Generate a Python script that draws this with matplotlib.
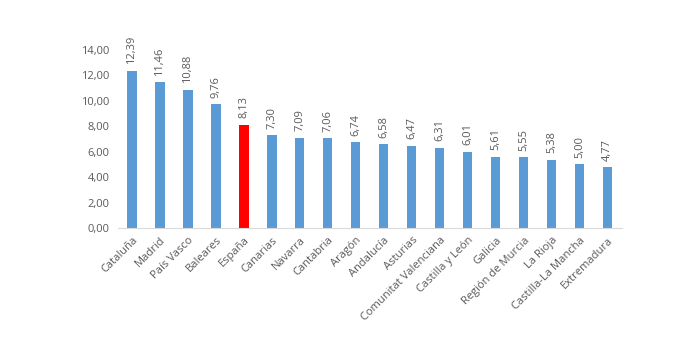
import matplotlib
matplotlib.use('Agg')
import matplotlib.pyplot as plt
import numpy as np

regions = ['Cataluña', 'Madrid', 'País Vasco', 'Baleares', 'España', 'Canarias',
           'Navarra', 'Cantabria', 'Aragón', 'Andalucía', 'Asturias',
           'Comunitat Valenciana', 'Castilla y León', 'Galicia', 'Región de Murcia',
           'La Rioja', 'Castilla-La Mancha', 'Extremadura']
values = [12.39, 11.46, 10.88, 9.76, 8.13, 7.30, 7.09, 7.06, 6.74, 6.58, 6.47,
          6.31, 6.01, 5.61, 5.55, 5.38, 5.00, 4.77]
yticks = [0, 2, 4, 6, 8, 10, 12, 14]

text_color = '#595959'
blue = '#5b9bd5'
red = '#ff0000'

plt.rcParams['font.family'] = ['Open Sans', 'DejaVu Sans']

fig = plt.figure(figsize=(6.9, 3.55), dpi=100)
ax = fig.add_axes([0.171, 0.358, 0.730, 0.501])

x = np.arange(len(regions))
colors = [red if r == 'España' else blue for r in regions]
ax.bar(x, values, width=0.33, color=colors, zorder=2)

# value labels above each bar, rotated like the original
for xi, v in zip(x, values):
    ax.text(xi, v + 0.5, f'{v:.2f}'.replace('.', ','), rotation=90,
            ha='center', va='bottom', fontsize=8, color=text_color, clip_on=False)

ax.set_xlim(-0.5, len(regions) - 0.5)
ax.set_ylim(0, 14)
ax.set_yticks(yticks)
ax.set_yticklabels([f'{t:.2f}'.replace('.', ',') for t in yticks], fontsize=8, color=text_color)
ax.set_xticks(x)
ax.set_xticklabels(regions, rotation=45, ha='right', rotation_mode='anchor',
                   fontsize=8, color=text_color)

for s in ['top', 'right', 'left']:
    ax.spines[s].set_visible(False)
ax.spines['bottom'].set_color('#d9d9d9')
ax.tick_params(axis='both', length=0)
ax.tick_params(axis='y', pad=6)
ax.tick_params(axis='x', pad=5)

fig.savefig('out.png', dpi=100, facecolor='white')
